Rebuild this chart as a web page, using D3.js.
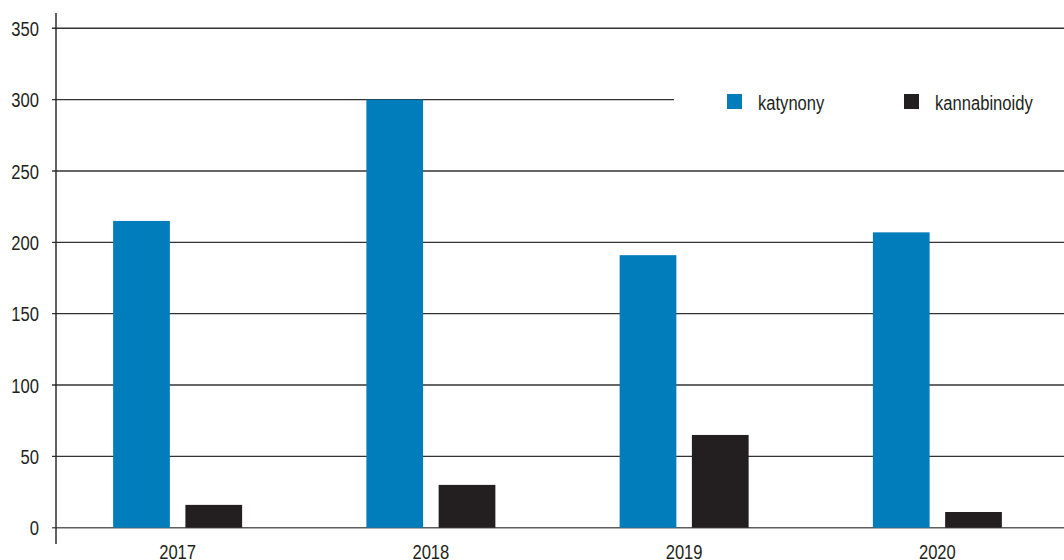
<!DOCTYPE html>
<html lang="pl">
<head>
<meta charset="UTF-8">
<title>katynony / kannabinoidy</title>
<script src="https://d3js.org/d3.v7.min.js"></script>
<style>
  body { margin: 0; background: #fff; }
  svg { display: block; font-family: "Liberation Sans", Arial, sans-serif; }
  .tick-label { font-size: 21px; fill: #231f20; }
  .legend-label { font-size: 21px; fill: #231f20; }
</style>
</head>
<body>
<svg id="chart" width="1064" height="560"></svg>
<script>
  // dane
  const years = ["2017", "2018", "2019", "2020"];
  const series = ["katynony", "kannabinoidy"];
  const katynony = [215, 300, 191, 207];
  const kannabinoidy = [16, 30, 65, 11];
  const yTicks = [0, 50, 100, 150, 200, 250, 300, 350];
  const colors = { katynony: "#007dba", kannabinoidy: "#231f20" };

  const rows = years.map((y, i) => ({ year: y, katynony: katynony[i], kannabinoidy: kannabinoidy[i] }));

  const svg = d3.select("#chart");
  const axisX = 56;
  const narrow = 0.79; // brak fontu "condensed" - zwężamy tekst

  const y = d3.scaleLinear().domain([0, 350]).range([527.7, 28.3]);

  const x0 = d3.scaleBand().domain(years).range([51, 1064]).padding(0);
  const x1 = d3.scaleBand().domain(series).range([-64.5, 64.5]).paddingInner(0.215).paddingOuter(0);

  // linie siatki
  svg.append("g")
    .selectAll("line")
    .data(yTicks)
    .join("line")
    .attr("x1", axisX - 4)
    .attr("x2", 1064)
    .attr("y1", d => y(d))
    .attr("y2", d => y(d))
    .attr("stroke", d => d === 0 ? "#5e5e5e" : "#333")
    .attr("stroke-width", 1.4);

  // etykiety osi Y
  svg.append("g")
    .selectAll("text")
    .data(yTicks)
    .join("text")
    .attr("class", "tick-label")
    .attr("transform", d => `translate(39,${y(d)}) scale(${narrow},1)`)
    .attr("dy", "0.36em")
    .attr("text-anchor", "end")
    .text(d => d);

  // legenda (białe tło zasłania linię siatki)
  const legend = svg.append("g");
  legend.append("rect")
    .attr("x", 674).attr("y", 86).attr("width", 390).attr("height", 30)
    .attr("fill", "#fff");
  const legendPos = { katynony: 727, kannabinoidy: 904 };
  series.forEach(s => {
    legend.append("rect")
      .attr("x", legendPos[s]).attr("y", 94)
      .attr("width", 15).attr("height", 15)
      .attr("fill", colors[s]);
    legend.append("text")
      .attr("class", "legend-label")
      .attr("transform", `translate(${legendPos[s] + 31},110) scale(${narrow},1)`)
      .text(s);
  });

  // słupki
  const groups = svg.append("g")
    .selectAll("g")
    .data(rows)
    .join("g")
    .attr("transform", d => `translate(${x0(d.year) + x0.bandwidth() / 2},0)`);

  groups.selectAll("rect")
    .data(d => series.map(s => ({ key: s, value: d[s] })))
    .join("rect")
    .attr("x", d => x1(d.key))
    .attr("width", x1.bandwidth())
    .attr("y", d => y(d.value))
    .attr("height", d => y(0) - y(d.value))
    .attr("fill", d => colors[d.key]);

  // oś Y
  svg.append("line")
    .attr("x1", axisX).attr("x2", axisX)
    .attr("y1", 13).attr("y2", 544)
    .attr("stroke", "#231f20")
    .attr("stroke-width", 1.4);

  // etykiety lat
  svg.append("g")
    .selectAll("text")
    .data(years)
    .join("text")
    .attr("class", "tick-label")
    .attr("transform", d => `translate(${x0(d) + x0.bandwidth() / 2},559) scale(${narrow},1)`)
    .attr("text-anchor", "middle")
    .text(d => d);
</script>
</body>
</html>
